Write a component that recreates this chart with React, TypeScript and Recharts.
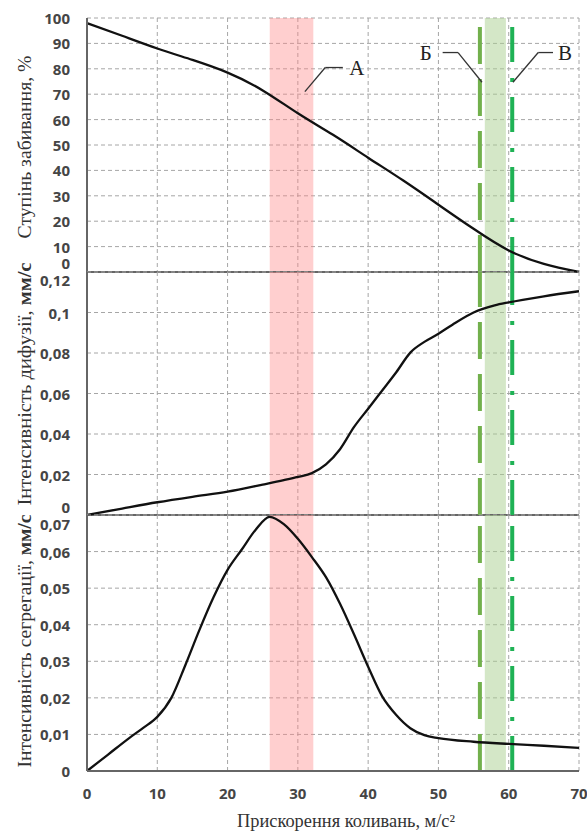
import {
  ComposedChart,
  Line,
  XAxis,
  YAxis,
  CartesianGrid,
  ReferenceArea,
  ReferenceLine,
  ReferenceDot,
} from 'recharts';

const W = 587;

// shared x axis: vibration acceleration, m/s²
const accelTicks = [0, 10, 20, 30, 40, 50, 60, 70];

// top panel: clogging degree, %
const cloggingX = [0, 5, 10, 15, 20, 25, 30, 35, 40, 45, 50, 55, 60, 65, 70];
const cloggingY = [98, 93, 88, 83.5, 78.5, 71.5, 62.5, 54, 45, 36, 26.5, 17, 8.5, 3.2, 0];
const cloggingTicks = [0, 10, 20, 30, 40, 50, 60, 70, 80, 90, 100];

// middle panel: diffusion intensity, mm/s
const diffusionX = [0, 5, 10, 15, 20, 25, 28, 30, 32, 34, 36, 38, 40, 42, 44, 46, 48, 50, 52, 55, 58, 60, 65, 70];
const diffusionY = [
  0, 0.0032, 0.0063, 0.009, 0.0115, 0.015, 0.0172, 0.0188, 0.0207, 0.025, 0.0325, 0.0435, 0.0525,
  0.0615, 0.0705, 0.0802, 0.0855, 0.0895, 0.094, 0.1, 0.1035, 0.105, 0.108, 0.1105,
];
const diffusionTicks = [0, 0.02, 0.04, 0.06, 0.08, 0.1, 0.12];

// bottom panel: segregation intensity, mm/s
const segregationX = [
  0, 3, 6, 8, 10, 12, 14, 16, 18, 20, 22, 24, 26, 28, 30, 32, 34, 36, 38, 40, 42, 44, 46, 48, 50, 55, 60, 65, 70,
];
const segregationY = [
  0, 0.0045, 0.009, 0.0118, 0.0148, 0.02, 0.029, 0.0386, 0.0475, 0.055, 0.0605, 0.066, 0.0695, 0.0675,
  0.0635, 0.0585, 0.053, 0.0457, 0.0373, 0.0285, 0.0204, 0.0153, 0.0117, 0.0098, 0.009, 0.008,
  0.0074, 0.0069, 0.0063,
];
const segregationTicks = [0, 0.01, 0.02, 0.03, 0.04, 0.05, 0.06, 0.07];

// zones
const zoneA = [26, 32.2];
const zoneGreen = [56.6, 59.6];
const lineB = 55.9;
const lineV = 60.5;

const toRows = (xs: number[], ys: number[]) => xs.map((x, i) => ({ x, y: ys[i] }));

const fmt = (v: number) => String(v).replace('.', ',');

const TICK_FONT = { fontFamily: '"Open Sans", sans-serif', fontSize: 15, fontWeight: 'bold', fill: '#454545' };

const makeTick = (shift: (v: number) => number) => (props: any) => {
  const { x, y, payload } = props;
  return (
    <text x={x} y={y + shift(payload.value)} textAnchor="end" dominantBaseline="central" {...TICK_FONT}>
      {fmt(payload.value)}
    </text>
  );
};

function Zones() {
  return [
    <ReferenceArea key="a" x1={zoneA[0]} x2={zoneA[1]} fill="#ff8888" fillOpacity={0.4} stroke="none" ifOverflow="visible" />,
    <ReferenceArea key="g" x1={zoneGreen[0]} x2={zoneGreen[1]} fill="#a9cf8f" fillOpacity={0.5} stroke="none" ifOverflow="visible" />,
  ];
}

function ZoneLines() {
  return [
    <ReferenceLine key="b" x={lineB} stroke="#72b04c" strokeWidth={4} strokeDasharray="37 15" />,
    <ReferenceLine key="v" x={lineV} stroke="#1fb255" strokeWidth={4} strokeDasharray="35 15 4 16" />,
  ];
}

const letter = (txt: string) => (p: any) => (
  <text
    x={p.cx}
    y={p.cy}
    textAnchor="middle"
    dominantBaseline="central"
    fontFamily='"Liberation Serif", serif'
    fontSize={21}
    fill="#222"
  >
    {txt}
  </text>
);

const leader = { stroke: '#333', strokeWidth: 1.3 };

export default function App() {
  const grid = <CartesianGrid stroke="#a6a6a6" strokeDasharray="4 3" />;
  const axisLine = { stroke: '#666', strokeWidth: 2 };
  return (
    <div style={{ position: 'absolute', left: 0, top: 0, width: W, height: 831, background: '#fff' }}>
      {/* top panel */}
      <div style={{ position: 'absolute', left: 0, top: 0 }}>
        <ComposedChart width={W} height={285} data={toRows(cloggingX, cloggingY)} margin={{ top: 18, right: 8, bottom: 13, left: 0 }}>
          {grid}
          {Zones()}
          <XAxis type="number" dataKey="x" domain={[0, 70]} ticks={accelTicks} hide />
          <YAxis
            type="number"
            domain={[0, 100]}
            ticks={cloggingTicks}
            width={87}
            axisLine={axisLine}
            tickLine={false}
            tickSize={0}
            tickMargin={17}
            tick={makeTick((v) => (v === 0 ? -9 : 0))}
          />
          <ReferenceLine y={0} stroke="#666" strokeWidth={2} />
          {ZoneLines()}
          <Line type="natural" dataKey="y" stroke="#111" strokeWidth={2.3} dot={false} isAnimationActive={false} />
          <ReferenceLine segment={[{ x: 31, y: 71 }, { x: 33.9, y: 80.5 }]} {...leader} />
          <ReferenceLine segment={[{ x: 33.9, y: 80.5 }, { x: 36.4, y: 80.5 }]} {...leader} />
          <ReferenceDot x={38.4} y={80.5} r={0} shape={letter('А')} />
          <ReferenceLine segment={[{ x: 50.6, y: 86.4 }, { x: 52.8, y: 86.4 }]} {...leader} />
          <ReferenceLine segment={[{ x: 52.8, y: 86.4 }, { x: 56.2, y: 74.7 }]} {...leader} />
          <ReferenceDot x={48.2} y={86.4} r={0} shape={letter('Б')} />
          <ReferenceLine segment={[{ x: 60.6, y: 74.7 }, { x: 64.2, y: 86.4 }]} {...leader} />
          <ReferenceLine segment={[{ x: 64.2, y: 86.4 }, { x: 66.3, y: 86.4 }]} {...leader} />
          <ReferenceDot x={68} y={86.4} r={0} shape={letter('В')} />
        </ComposedChart>
      </div>

      {/* middle panel */}
      <div style={{ position: 'absolute', left: 0, top: 262 }}>
        <ComposedChart width={W} height={263} data={toRows(diffusionX, diffusionY)} margin={{ top: 10, right: 8, bottom: 10, left: 0 }}>
          {grid}
          {Zones()}
          <XAxis type="number" dataKey="x" domain={[0, 70]} ticks={accelTicks} hide />
          <YAxis
            type="number"
            domain={[0, 0.12]}
            ticks={diffusionTicks}
            width={87}
            axisLine={axisLine}
            tickLine={false}
            tickSize={0}
            tickMargin={17}
            tick={makeTick((v) => (v === 0 ? -8 : v === 0.12 ? 8 : 0))}
          />
          <ReferenceLine y={0} stroke="#666" strokeWidth={2} />
          {ZoneLines()}
          <Line type="monotone" dataKey="y" stroke="#111" strokeWidth={2.3} dot={false} isAnimationActive={false} />
        </ComposedChart>
      </div>

      {/* bottom panel */}
      <div style={{ position: 'absolute', left: 0, top: 505 }}>
        <ComposedChart width={W} height={326} data={toRows(segregationX, segregationY)} margin={{ top: 10, right: 8, bottom: 30, left: 0 }}>
          {grid}
          {Zones()}
          <XAxis
            type="number"
            dataKey="x"
            domain={[0, 70]}
            ticks={accelTicks}
            height={30}
            axisLine={axisLine}
            tickLine={false}
            tickSize={0}
            tickMargin={17}
            tick={TICK_FONT}
          />
          <YAxis
            type="number"
            domain={[0, 0.07]}
            ticks={segregationTicks}
            width={87}
            axisLine={axisLine}
            tickLine={false}
            tickSize={0}
            tickMargin={17}
            tick={makeTick((v) => (v === 0.07 ? 9 : 0))}
          />
          {ZoneLines()}
          <Line type="monotone" dataKey="y" stroke="#111" strokeWidth={2.3} dot={false} isAnimationActive={false} />
        </ComposedChart>
      </div>

      {/* axis titles */}
      <svg width={W} height={831} style={{ position: 'absolute', left: 0, top: 0, pointerEvents: 'none' }}>
        <g fontFamily='"Liberation Serif", serif' fontSize={18} fill="#333">
          <text transform="translate(31,147) rotate(-90)" textAnchor="middle" textLength={183} lengthAdjust="spacingAndGlyphs">
            Ступінь забивання, %
          </text>
          <text transform="translate(31,384) rotate(-90)" textAnchor="middle" textLength={243} lengthAdjust="spacingAndGlyphs">
            Інтенсивність дифузії,{'  '}
            <tspan fontWeight="bold">мм/с</tspan>
          </text>
          <text transform="translate(31,641) rotate(-90)" textAnchor="middle" textLength={253} lengthAdjust="spacingAndGlyphs">
            Інтенсивність сегрегації,{'  '}
            <tspan fontWeight="bold">мм/с</tspan>
          </text>
          <text x={346} y={827} textAnchor="middle" textLength={218} lengthAdjust="spacingAndGlyphs">
            Прискорення коливань, м/с²
          </text>
        </g>
      </svg>
    </div>
  );
}
